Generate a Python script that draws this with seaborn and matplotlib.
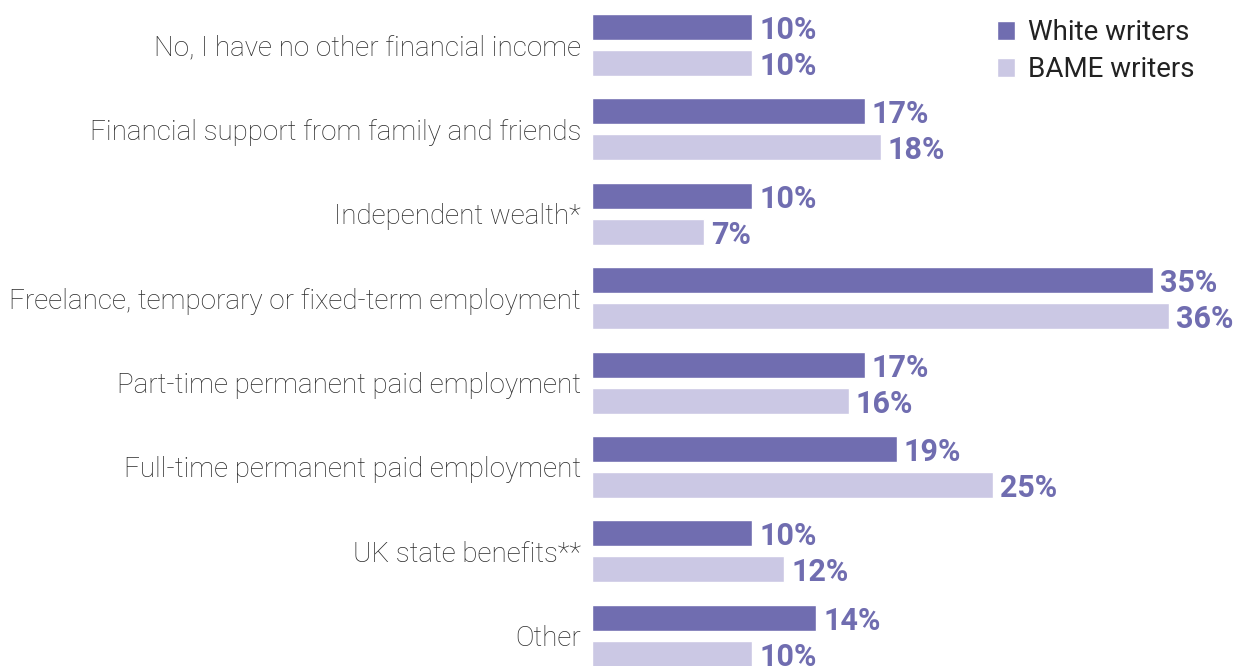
import matplotlib
matplotlib.use("Agg")
import matplotlib.pyplot as plt
import pandas as pd
import seaborn as sns

# data
categories = [
    "No, I have no other financial income",
    "Financial support from family and friends",
    "Independent wealth*",
    "Freelance, temporary or fixed-term employment",
    "Part-time permanent paid employment",
    "Full-time permanent paid employment",
    "UK state benefits**",
    "Other",
]
white = [10, 17, 10, 35, 17, 19, 10, 14]
bame = [10, 18, 7, 36, 16, 25, 12, 10]
groups = ["White writers", "BAME writers"]

dark = "#706db0"
light = "#cbc8e4"

df = pd.DataFrame({
    "category": categories * 2,
    "group": [groups[0]] * len(categories) + [groups[1]] * len(categories),
    "value": white + bame,
})

sns.set_style("white")
plt.rcParams["font.family"] = ["Roboto", "DejaVu Sans"]

fig = plt.figure(figsize=(12.36, 6.66), dpi=100)
ax = fig.add_axes([592 / 1236, 0, 1 - 592 / 1236, 1])

sns.barplot(data=df, y="category", x="value", hue="group", order=categories,
            hue_order=groups, palette=[dark, light], orient="h",
            width=0.853, gap=0.278, saturation=1, ax=ax, legend=True)

for cont in ax.containers:
    labels = ax.bar_label(cont, fmt="{:.0f}%", padding=5, color=dark,
                          fontsize=22, fontweight="bold")
    for l in labels:
        l.set_va("center_baseline")

ax.set_xlim(0, 40.17)
ax.set_ylim(7.358, -0.533)
ax.set_xlabel("")
ax.set_ylabel("")
ax.set_xticks([])
ax.tick_params(axis="y", length=0, pad=8)
for lbl in ax.get_yticklabels():
    lbl.set_fontsize(20)
    lbl.set_fontweight("light")
    lbl.set_color("#2a2a2a")
sns.despine(ax=ax, left=True, bottom=True)

leg = ax.legend(loc="upper right", bbox_to_anchor=(1195 / 1236, 1 - 19 / 666),
                bbox_transform=fig.transFigure, frameon=False, fontsize=20,
                handlelength=0.65, handleheight=0.65, handletextpad=0.5,
                labelspacing=0.37, borderaxespad=0, borderpad=0)
for t in leg.get_texts():
    t.set_color("#222222")

fig.savefig("out.png", dpi=100)
